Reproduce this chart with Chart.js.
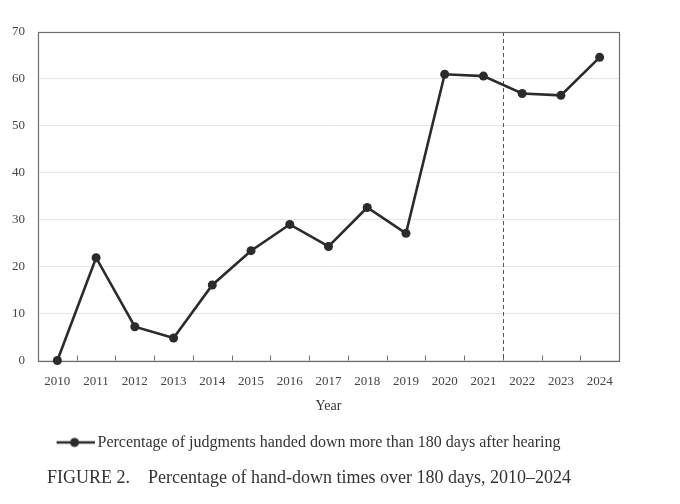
<!DOCTYPE html>
<html>
<head>
<meta charset="utf-8">
<script src="https://cdn.jsdelivr.net/npm/chart.js@4.4.1/dist/chart.umd.min.js"></script>
<style>
  html, body { margin: 0; padding: 0; background: #fff; overflow: hidden; }
  #wrap { position: relative; left: -12px; width: 700px; height: 504px; }
</style>
</head>
<body>
<div id="wrap"><canvas id="handDownChart" width="700" height="504"></canvas></div>
<script>
const years = ["2010", "2011", "2012", "2013", "2014", "2015", "2016", "2017",
  "2018", "2019", "2020", "2021", "2022", "2023", "2024"];
const over180 = [0, 21.9, 7.2, 4.8, 16.1, 23.4, 29.0, 24.3, 32.6, 27.1, 61.0, 60.6, 56.9, 56.5, 64.6];
const yTicks = [0, 10, 20, 30, 40, 50, 60, 70];
const dividerAfter = "2021";

const seriesLabel = "Percentage of judgments handed down more than 180 days after hearing";
const caption = "FIGURE 2.    Percentage of hand-down times over 180 days, 2010\u20132024";

const serif = "'Liberation Serif', 'DejaVu Serif', serif";
const ink = "#2b2b2b";

// legend symbol: short line with a dot on it
const legendMark = document.createElement("canvas");
legendMark.width = 42;
legendMark.height = 12;
(function () {
  const g = legendMark.getContext("2d");
  g.strokeStyle = ink;
  g.lineWidth = 2.5;
  g.beginPath();
  g.moveTo(4, 6);
  g.lineTo(42, 6);
  g.stroke();
  g.fillStyle = ink;
  g.beginPath();
  g.arc(22, 6, 4.5, 0, Math.PI * 2);
  g.fill();
})();

// plot frame, inward x tick marks and the dashed divider
const framePlugin = {
  id: "frame",
  beforeDatasetsDraw(chart) {
    const { ctx, chartArea: a, scales: { x } } = chart;
    ctx.save();
    ctx.strokeStyle = "#6e6e6e";
    ctx.lineWidth = 1;
    for (let i = 1; i < years.length; i++) {
      const px = Math.round((x.getPixelForValue(i - 1) + x.getPixelForValue(i)) / 2) + 0.5;
      ctx.beginPath();
      ctx.moveTo(px, a.bottom);
      ctx.lineTo(px, a.bottom - 5);
      ctx.stroke();
    }
    const d = years.indexOf(dividerAfter);
    const dx = Math.round((x.getPixelForValue(d) + x.getPixelForValue(d + 1)) / 2) + 0.5;
    ctx.strokeStyle = "#555";
    ctx.setLineDash([4, 3]);
    ctx.beginPath();
    ctx.moveTo(dx, a.top);
    ctx.lineTo(dx, a.bottom);
    ctx.stroke();
    ctx.setLineDash([]);
    ctx.strokeStyle = "#6e6e6e";
    ctx.lineWidth = 1.2;
    ctx.strokeRect(Math.round(a.left) + 0.5, Math.round(a.top) + 0.5,
      Math.round(a.width), Math.round(a.height));
    ctx.restore();
  },
};

new Chart(document.getElementById("handDownChart"), {
  type: "line",
  data: {
    labels: years,
    datasets: [
      {
        label: seriesLabel,
        data: over180,
        borderColor: ink,
        backgroundColor: ink,
        borderWidth: 2.6,
        pointRadius: 4.5,
        pointHoverRadius: 4.5,
        pointBackgroundColor: ink,
        pointBorderWidth: 0,
        tension: 0,
        clip: false,
      },
    ],
  },
  options: {
    responsive: false,
    animation: false,
    devicePixelRatio: 1,
    layout: { padding: { left: 11, right: 69, top: 32, bottom: 11 } },
    scales: {
      x: {
        offset: true,
        grid: { display: false },
        border: { display: false },
        ticks: { color: "#444", padding: 5, font: { family: serif, size: 13 } },
        title: {
          display: true,
          text: "Year",
          color: "#333",
          padding: { top: 4, bottom: 4 },
          font: { family: serif, size: 14 },
        },
      },
      y: {
        min: 0,
        max: 70,
        afterBuildTicks(scale) {
          scale.ticks = yTicks.map((v) => ({ value: v }));
        },
        grid: { color: "#e6e6e6", drawTicks: true, tickLength: 11, tickColor: "rgba(0,0,0,0)" },
        border: { display: false },
        ticks: { color: "#444", padding: 2, font: { family: serif, size: 13 } },
        title: {
          display: true,
          text: "%",
          color: "#333",
          padding: { top: -9.5, bottom: 9.5 },
          font: { family: serif, size: 13, lineHeight: 11 / 13 },
        },
      },
    },
    plugins: {
      legend: {
        position: "bottom",
        labels: {
          usePointStyle: true,
          pointStyle: legendMark,
          pointStyleWidth: 32,
          color: "#333",
          padding: 15.5,
          font: { family: serif, size: 16 },
        },
      },
      title: {
        display: true,
        position: "bottom",
        text: caption,
        color: "#333",
        padding: { top: 7, bottom: 4 },
        font: { family: serif, size: 18, weight: "normal" },
      },
      tooltip: { enabled: false },
    },
  },
  plugins: [framePlugin],
});
</script>
</body>
</html>
